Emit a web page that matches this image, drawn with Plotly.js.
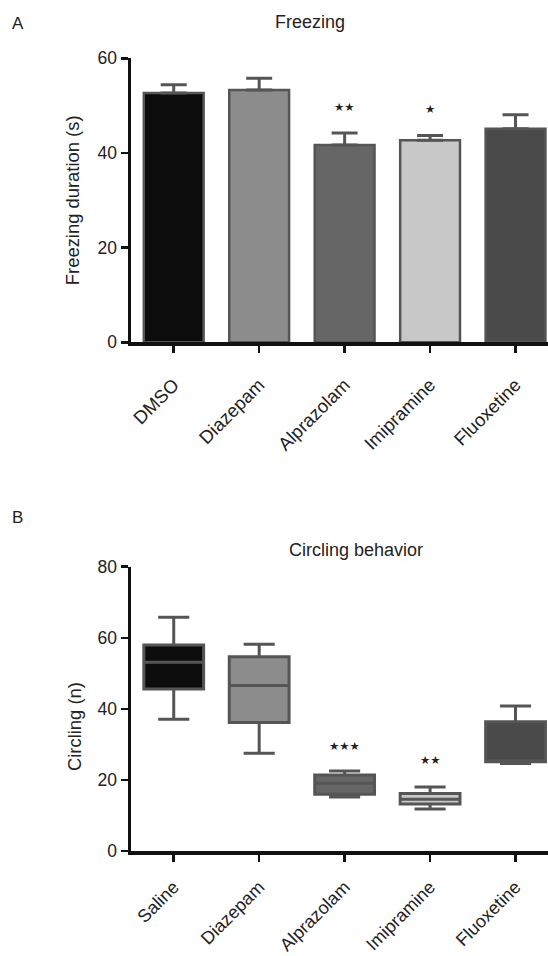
<!DOCTYPE html>
<html>
<head>
<meta charset="utf-8">
<script src="https://cdn.plot.ly/plotly-3.0.1.min.js"></script>
<style>
  html, body { margin: 0; padding: 0; background: #fff; }
  #chart { width: 548px; height: 956px; }
</style>
</head>
<body>
<div id="chart"></div>
<script>
// ---- Panel A: Freezing (mean + SEM) ----
const groupsA = ['DMSO', 'Diazepam', 'Alprazolam', 'Imipramine', 'Fluoxetine'];
const freezeMean = [52.7, 53.3, 41.7, 42.7, 45.1];
const freezeSem = [1.7, 2.5, 2.5, 1.0, 3.0];
const sigA = ['', '', '★★', '★', ''];
const sigAy = [0, 0, 49.7, 49.3, 0];

// ---- Panel B: Circling behavior (box plots) ----
const groupsB = ['Saline', 'Diazepam', 'Alprazolam', 'Imipramine', 'Fluoxetine'];
const circLower = [37.1, 27.5, 15.2, 11.8, 24.6];
const circQ1 = [45.6, 36.2, 16.0, 13.2, 25.1];
const circMedian = [53.1, 46.6, 19.1, 14.6, 25.1];
const circQ3 = [58.0, 54.7, 21.4, 16.2, 36.4];
const circUpper = [65.8, 58.2, 22.5, 18.0, 40.8];
const sigB = ['', '', '★★★', '★★', ''];
const sigBy = [0, 0, 29.6, 25.6, 0];

const fills = ['#0c0c0c', '#8c8c8c', '#666666', '#c8c8c8', '#4a4a4a'];
const edge = '#555555';
const FONT = 'Liberation Sans, Arial, Helvetica, sans-serif';
const TXT = '#222222';

const traces = [];
traces.push({
  type: 'bar', x: groupsA, y: freezeMean, xaxis: 'x', yaxis: 'y',
  width: 0.7,
  marker: { color: fills, line: { color: edge, width: 2.5 } },
  error_y: { type: 'data', array: freezeSem, arrayminus: freezeSem.map(() => 0), symmetric: false,
             color: edge, thickness: 3, width: 13 },
  hoverinfo: 'skip'
});

groupsB.forEach((g, i) => {
  traces.push({
    type: 'box', x: [g], xaxis: 'x2', yaxis: 'y2',
    q1: [circQ1[i]], median: [circMedian[i]], q3: [circQ3[i]],
    lowerfence: [circLower[i]], upperfence: [circUpper[i]],
    width: 0.7, whiskerwidth: 0.52,
    fillcolor: fills[i], line: { color: edge, width: 3 },
    boxpoints: false, hoverinfo: 'skip'
  });
});

const annotations = [];
groupsA.forEach((g, i) => {
  if (sigA[i]) annotations.push({ xref: 'x', yref: 'y', x: g, y: sigAy[i], text: sigA[i], showarrow: false,
    font: { family: 'DejaVu Sans', size: 11.5, color: TXT }, yanchor: 'middle' });
});
groupsB.forEach((g, i) => {
  if (sigB[i]) annotations.push({ xref: 'x2', yref: 'y2', x: g, y: sigBy[i], text: sigB[i], showarrow: false,
    font: { family: 'DejaVu Sans', size: 11.5, color: TXT }, yanchor: 'middle' });
});
annotations.push({ xref: 'paper', yref: 'paper', x: -0.271, y: 0.9754, text: 'A', showarrow: false,
  font: { family: FONT, size: 17, color: TXT }, xanchor: 'center', yanchor: 'middle' });
annotations.push({ xref: 'paper', yref: 'paper', x: -0.271, y: 0.4582, text: 'B', showarrow: false,
  font: { family: FONT, size: 17, color: TXT }, xanchor: 'center', yanchor: 'middle' });
annotations.push({ xref: 'paper', yref: 'paper', x: 0.5396, y: 0.4247, text: 'Circling behavior', showarrow: false,
  font: { family: FONT, size: 18, color: TXT }, xanchor: 'center', yanchor: 'middle' });
// y-axis title of panel B, placed where the reference draws it
annotations.push({ xref: 'paper', yref: 'paper', x: (74 - 131) / 417, y: 1 - 727 / 956, text: 'Circling (n)', showarrow: false,
  textangle: -90, font: { family: FONT, size: 18.4, color: TXT }, xanchor: 'center', yanchor: 'middle' });

const xCommon = {
  type: 'category', range: [-0.5, 4.38], showline: true, linecolor: '#111', linewidth: 3.5,
  ticks: 'outside', ticklen: 7, tickwidth: 2.5, tickcolor: '#111', tickangle: -45,
  tickfont: { family: FONT, size: 18.5, color: TXT }, showgrid: false, zeroline: false,
  fixedrange: true
};
const yCommon = {
  showline: true, linecolor: '#111', linewidth: 3.5,
  ticks: 'outside', ticklen: 7, tickwidth: 2.5, tickcolor: '#111',
  tickfont: { family: FONT, size: 17.5, color: TXT }, showgrid: false, zeroline: false, fixedrange: true
};

const layout = {
  width: 548, height: 956,
  margin: { l: 131, r: 0, t: 0, b: 0 },
  paper_bgcolor: '#fff', plot_bgcolor: '#fff',
  showlegend: false, boxmode: 'overlay',
  title: { text: 'Freezing', font: { family: FONT, size: 18, color: TXT },
           x: 310 / 548, xref: 'container', xanchor: 'center', y: 1 - 22 / 956, yref: 'container', yanchor: 'middle' },
  xaxis: Object.assign({}, xCommon, { anchor: 'y', domain: [0, 1], ticklabelstandoff: 14 }),
  yaxis: Object.assign({}, yCommon, { anchor: 'x', domain: [0.6419, 0.9390], range: [0, 60], tickvals: [0, 20, 40, 60],
    title: { text: 'Freezing duration (s)', font: { family: FONT, size: 18.4, color: TXT }, standoff: 14 } }),
  xaxis2: Object.assign({}, xCommon, { anchor: 'y2', domain: [0, 1], ticklabelstandoff: 8,
    tickfont: { family: FONT, size: 18, color: TXT } }),
  yaxis2: Object.assign({}, yCommon, { anchor: 'x2', domain: [0.1098, 0.4072], range: [0, 80], tickvals: [0, 20, 40, 60, 80] }),
  annotations: annotations
};

Plotly.newPlot('chart', traces, layout, { staticPlot: true, displayModeBar: false });
</script>
</body>
</html>
